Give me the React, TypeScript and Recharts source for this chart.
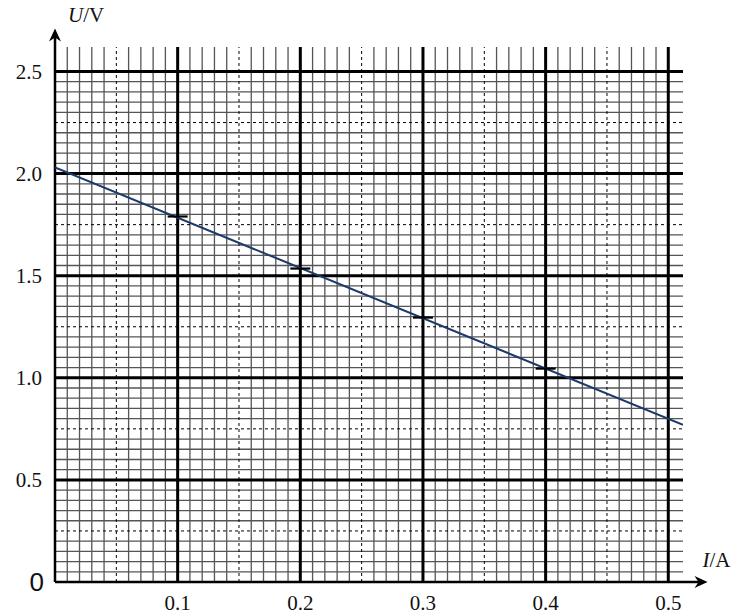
import { ComposedChart, Line, Scatter, XAxis, YAxis, ReferenceLine } from 'recharts'

// fitted line through the measurements
const lineData = [
  { i: 0, u: 2.03 },
  { i: 0.512, u: 0.77 },
]

// measured points (drawn as short dashes)
const points = [
  { i: 0.1, u: 1.79 },
  { i: 0.2, u: 1.535 },
  { i: 0.3, u: 1.295 },
  { i: 0.4, u: 1.045 },
]

const xTicks = [0.1, 0.2, 0.3, 0.4, 0.5]
const yTicks = [0, 0.5, 1.0, 1.5, 2.0, 2.5]

const majorX = [0.1, 0.2, 0.3, 0.4, 0.5]
const majorY = [0.5, 1.0, 1.5, 2.0, 2.5]
const dashX = [0.05, 0.15, 0.25, 0.35, 0.45]
const dashY = [0.25, 0.75, 1.25, 1.75, 2.25]

// 1 mm paper: every 0.01 A and every 0.05 V
const minorX: number[] = []
for (let k = 1; k < 50; k++) if (k % 5 !== 0) minorX.push(k / 100)
const minorY: number[] = []
for (let k = 1; k < 50; k++) if (k % 5 !== 0) minorY.push(k / 20)

const serif = '"Liberation Serif", "Times New Roman", serif'
const serifStyle = { fontFamily: serif }

const XTick = ({ x, payload }: any) => (
  <text x={x} y={610} textAnchor="middle" style={serifStyle} fontSize={21} fill="#111">
    {payload.value.toFixed(1)}
  </text>
)

const YTick = ({ y, payload }: any) =>
  payload.value === 0 ? (
    <text
      x={44}
      y={y + 9}
      textAnchor="end"
      style={{ fontFamily: '"Liberation Sans", Arial, sans-serif' }}
      fontSize={26}
      fill="#111"
    >
      0
    </text>
  ) : (
    <text x={42} y={y + 7} textAnchor="end" style={serifStyle} fontSize={21} fill="#111">
      {payload.value.toFixed(1)}
    </text>
  )

const Dash = ({ cx, cy }: any) => (
  <line x1={cx - 10} y1={cy} x2={cx + 10} y2={cy} stroke="#000" strokeWidth={2.2} />
)

const ArrowUp = ({ x1, y1, x2, y2 }: any) => (
  <g>
    <line x1={x1} y1={y1} x2={x2} y2={y2 + 6} stroke="#000" strokeWidth={2.5} />
    <path d={`M${x2},${y2} L${x2 - 6},${y2 + 13} L${x2},${y2 + 9} L${x2 + 6},${y2 + 13} Z`} fill="#000" />
    <text x={x2 + 13} y={y2 - 7} style={serifStyle} fontSize={21} fill="#111">
      <tspan fontStyle="italic">U</tspan>/V
    </text>
  </g>
)

const ArrowRight = ({ x1, y1, x2, y2 }: any) => (
  <g>
    <line x1={x1} y1={y1} x2={x2 - 6} y2={y2} stroke="#000" strokeWidth={2.5} />
    <path d={`M${x2},${y2} L${x2 - 13},${y2 - 6} L${x2 - 9},${y2} L${x2 - 13},${y2 + 6} Z`} fill="#000" />
    <text x={x2 - 5} y={y2 - 15} style={serifStyle} fontSize={21} fill="#111">
      <tspan fontStyle="italic">I</tspan>/A
    </text>
  </g>
)

export default function App() {
  return (
    <div style={{ position: 'absolute', left: 0, top: 0, width: 733, height: 615, background: '#fff' }}>
      <ComposedChart width={733} height={615} margin={{ top: 47, right: 50, bottom: 0, left: 0 }}>
        <XAxis
          type="number"
          dataKey="i"
          domain={[0, 0.512]}
          ticks={xTicks}
          height={33}
          axisLine={false}
          tickLine={false}
          tick={<XTick />}
          allowDataOverflow
        />
        <YAxis
          type="number"
          dataKey="u"
          domain={[0, 2.62]}
          ticks={yTicks}
          width={55}
          axisLine={false}
          tickLine={false}
          tick={<YTick />}
          allowDataOverflow
        />
        {minorX.map((v) => (
          <ReferenceLine key={`mx${v}`} x={v} stroke="#555" strokeWidth={1.3} />
        ))}
        {minorY.map((v) => (
          <ReferenceLine key={`my${v}`} y={v} stroke="#555" strokeWidth={1.3} />
        ))}
        {dashX.map((v) => (
          <ReferenceLine key={`dx${v}`} x={v} stroke="#000" strokeWidth={1} strokeDasharray="3 3" />
        ))}
        {dashY.map((v) => (
          <ReferenceLine key={`dy${v}`} y={v} stroke="#000" strokeWidth={1} strokeDasharray="3 3" />
        ))}
        {majorX.map((v) => (
          <ReferenceLine key={`Mx${v}`} x={v} stroke="#000" strokeWidth={3} />
        ))}
        {majorY.map((v) => (
          <ReferenceLine key={`My${v}`} y={v} stroke="#000" strokeWidth={3} />
        ))}
        <ReferenceLine
          segment={[{ x: 0, y: 0 }, { x: 0, y: 2.71 }]}
          ifOverflow="visible"
          shape={ArrowUp}
        />
        <ReferenceLine
          segment={[{ x: 0, y: 0 }, { x: 0.532, y: 0 }]}
          ifOverflow="visible"
          shape={ArrowRight}
        />
        <Line
          data={lineData}
          dataKey="u"
          type="linear"
          stroke="#1b3a6b"
          strokeWidth={2}
          dot={false}
          isAnimationActive={false}
        />
        <Scatter data={points} dataKey="u" shape={<Dash />} isAnimationActive={false} />
      </ComposedChart>
    </div>
  )
}
